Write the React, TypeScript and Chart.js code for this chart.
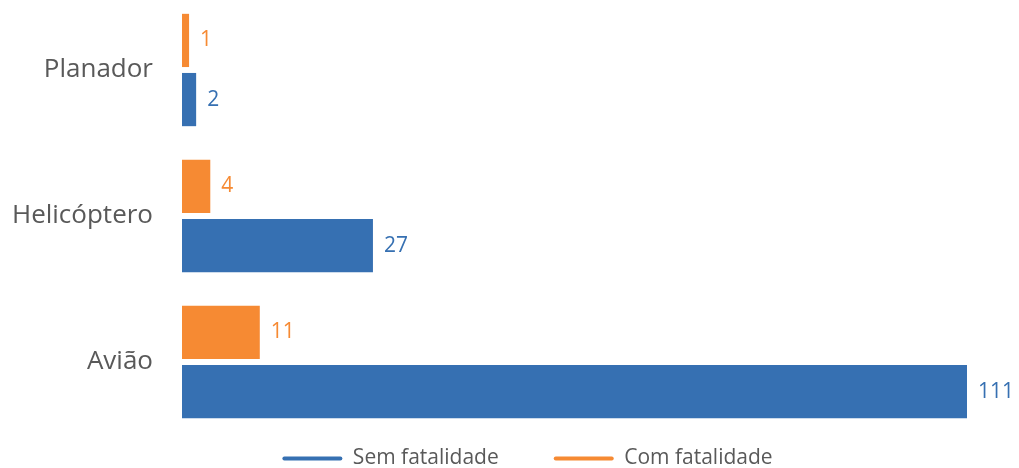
import React, { useEffect, useRef } from "react";
import { Chart, registerables } from "chart.js";

Chart.register(...registerables);

const categories = ["Planador", "Helicóptero", "Avião"];
const comFatalidade = [1, 4, 11];
const semFatalidade = [2, 27, 111];
const seriesNames = ["Com fatalidade", "Sem fatalidade"];

const BLUE = "#3670B2";
const ORANGE = "#F68A33";
const FONT = "'Open Sans', 'Noto Sans', sans-serif";

const valueLabels = {
  id: "valueLabels",
  afterDatasetsDraw(chart: any) {
    const ctx = chart.ctx;
    ctx.save();
    ctx.font = `21px ${FONT}`;
    ctx.textAlign = "left";
    ctx.textBaseline = "middle";
    chart.data.datasets.forEach((ds: any, i: number) => {
      const meta = chart.getDatasetMeta(i);
      ctx.fillStyle = ds.backgroundColor;
      meta.data.forEach((bar: any, j: number) => {
        ctx.fillText(String(ds.data[j]), bar.x + 11, bar.y);
      });
    });
    ctx.restore();
  },
};

// let the category axis use the full left margin for its labels and
// start a little above the plot box
const stretchY = {
  id: "stretchY",
  afterLayout(chart: any) {
    const y = chart.scales.y;
    y.left = 0;
    y.width = y.right - y.left;
    y.top = chart.chartArea.top - 3;
    y.height = y.bottom - y.top;
    y.configure();
  },
};

export default function App() {
  const ref = useRef<HTMLCanvasElement>(null);
  useEffect(() => {
    document.body.style.margin = "0";
    const chart = new Chart(ref.current!, {
      type: "bar",
      data: {
        labels: categories,
        datasets: [
          {
            label: seriesNames[0],
            data: comFatalidade,
            backgroundColor: ORANGE,
            categoryPercentage: 0.81,
            barPercentage: 0.9,
          },
          {
            label: seriesNames[1],
            data: semFatalidade,
            backgroundColor: BLUE,
            categoryPercentage: 0.81,
            barPercentage: 0.9,
          },
        ],
      },
      options: {
        indexAxis: "y",
        animation: false,
        responsive: false,
        layout: { padding: { top: 0, right: 52, bottom: 0, left: 88 } },
        scales: {
          x: { display: false, min: 0, max: 111 },
          y: {
            grid: { display: false },
            border: { display: false },
            ticks: {
              color: "#595959",
              font: { family: FONT, size: 26 },
              padding: 21,
            },
            afterFit(scale: any) {
              scale.width = 94;
              scale.paddingTop = 0;
              scale.paddingBottom = 0;
            },
          },
        },
        plugins: {
          legend: {
            position: "bottom",
            reverse: true,
            maxHeight: 33,
            labels: {
              boxWidth: 60,
              boxHeight: 4,
              useBorderRadius: true,
              borderRadius: 2,
              color: "#595959",
              font: { family: FONT, size: 21 },
              padding: 13,
              generateLabels(chart: any) {
                const items = Chart.defaults.plugins.legend.labels.generateLabels(chart);
                return items.map((it: any) => ({
                  ...it,
                  text: it.datasetIndex === 1 ? it.text + "\u2003\u2003" : it.text,
                  strokeStyle: it.fillStyle,
                  lineWidth: 0,
                }));
              },
            },
          },
          tooltip: { enabled: false },
        },
      },
      plugins: [valueLabels, stretchY],
    });
    return () => chart.destroy();
  }, []);
  return <canvas ref={ref} width={1019} height={468} style={{ display: "block" }} />;
}
